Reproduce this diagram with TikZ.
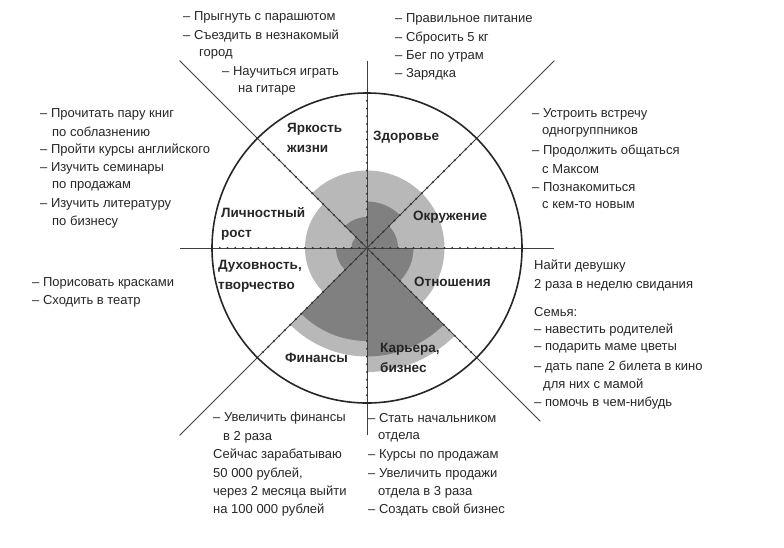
\documentclass[tikz,border=0pt]{standalone}
\usepackage{fontspec}
\setmainfont{Liberation Sans}
\begin{document}
\begin{tikzpicture}[
    x=1pt, y=-1pt,
    note/.style={anchor=west, inner sep=0pt, font=\fontsize{13}{15}\selectfont, text=black!85},
    sector/.style={anchor=west, inner sep=0pt, align=left, font=\fontsize{13.5}{19.5}\selectfont\bfseries, text=black!85},
    spoke/.style={draw=black!75, line width=0.8pt},
    light/.style={fill=black!28},
    dark/.style={fill=black!50}
]
\useasboundingbox (0,0) rectangle (784,547);

% Wheel
\begin{scope}[shift={(367,248)}, y=1pt]
% filled levels: lower angle / light / dark
\foreach \a/\l/\d in {45/10/6, 0/10/4, -45/10/6, -90/16/14, -135/14/12, 180/8/4, 135/8/2, 90/10/4} {
    \fill[light] (0,0) -- (\a:\l*7.75) arc[start angle=\a, delta angle=45, radius=\l*7.75] -- cycle;
    \fill[dark] (0,0) -- (\a:\d*7.75) arc[start angle=\a, delta angle=45, radius=\d*7.75] -- cycle;
}
% spokes
\foreach \a in {0,90,180,270} {
    \draw[spoke] (0,0) -- (\a:187);
}
\foreach \a in {45,135,225} {
    \draw[spoke] (0,0) -- (\a:265);
}
\draw[spoke] (0,0) -- (-45:245);
% dots
\foreach \a in {0,45,...,315} {
    \foreach \k in {1,...,19} {
        \fill[black!80] (\a:\k*7.75) circle (1.1);
    }
}
\draw[black!85, line width=1.6pt] (0,0) circle (155);
\end{scope}

% Sector labels
\node[sector] (yark) at (287,138) {Яркость\\жизни};
\node[sector] (zdor) at (373,137) {Здоровье};
\node[sector] (okr) at (413,217) {Окружение};
\node[sector] (lich) at (221,224) {Личностный\\рост};
\node[sector] (duh) at (218,276) {Духовность,\\творчество};
\node[sector] (otn) at (414,282) {Отношения};
\node[sector] (fin) at (285,358) {Финансы};
\node[sector] (kar) at (380,358) {Карьера,\\бизнес};

% Top left
\node[note] (t1) at (183,17) {– Прыгнуть с парашютом};
\node[note] (t2) at (183,36) {– Съездить в незнакомый};
\node[note] (t3) at (199,54) {город};
\node[note] (t4) at (222,72) {– Научиться играть};
\node[note] (t5) at (238,90) {на гитаре};

% Top right
\node[note] (h1) at (395,19) {– Правильное питание};
\node[note] (h2) at (395,38) {– Сбросить 5 кг};
\node[note] (h3) at (395,56) {– Бег по утрам};
\node[note] (h4) at (395,74) {– Зарядка};

% Left
\node[note] (p1) at (40,114) {– Прочитать пару книг};
\node[note] (p2) at (52,132) {по соблазнению};
\node[note] (p3) at (40,150) {– Пройти курсы английского};
\node[note] (p4) at (40,168) {– Изучить семинары};
\node[note] (p5) at (52,186) {по продажам};
\node[note] (p6) at (40,204) {– Изучить литературу};
\node[note] (p7) at (52,222) {по бизнесу};

% Right
\node[note] (o1) at (532,114) {– Устроить встречу};
\node[note] (o2) at (542,132) {одногруппников};
\node[note] (o3) at (532,151) {– Продолжить общаться};
\node[note] (o4) at (542,169) {с Максом};
\node[note] (o5) at (532,187) {– Познакомиться};
\node[note] (o6) at (542,205) {с кем-то новым};

% Left middle
\node[note] (d1) at (32,283) {– Порисовать красками};
\node[note] (d2) at (32,301) {– Сходить в театр};

% Right middle
\node[note] (r1) at (534,266) {Найти девушку};
\node[note] (r2) at (534,285) {2 раза в неделю свидания};
\node[note] (r3) at (534,312) {Семья:};
\node[note] (r4) at (534,330) {– навестить родителей};
\node[note] (r5) at (534,348) {– подарить маме цветы};
\node[note] (r6) at (534,367) {– дать папе 2 билета в кино};
\node[note] (r7) at (543,385) {для них с мамой};
\node[note] (r8) at (534,403) {– помочь в чем-нибудь};

% Bottom left
\node[note] (f1) at (213,418) {– Увеличить финансы};
\node[note] (f2) at (223,437) {в 2 раза};
\node[note] (f3) at (213,455) {Сейчас зарабатываю};
\node[note] (f4) at (213,474) {50 000 рублей,};
\node[note] (f5) at (213,492) {через 2 месяца выйти};
\node[note] (f6) at (213,510) {на 100 000 рублей};

% Bottom right
\node[note] (k1) at (368,418) {– Стать начальником};
\node[note] (k2) at (378,437) {отдела};
\node[note] (k3) at (368,455) {– Курсы по продажам};
\node[note] (k4) at (368,474) {– Увеличить продажи};
\node[note] (k5) at (378,492) {отдела в 3 раза};
\node[note] (k6) at (368,510) {– Создать свой бизнес};
\end{tikzpicture}
\end{document}
